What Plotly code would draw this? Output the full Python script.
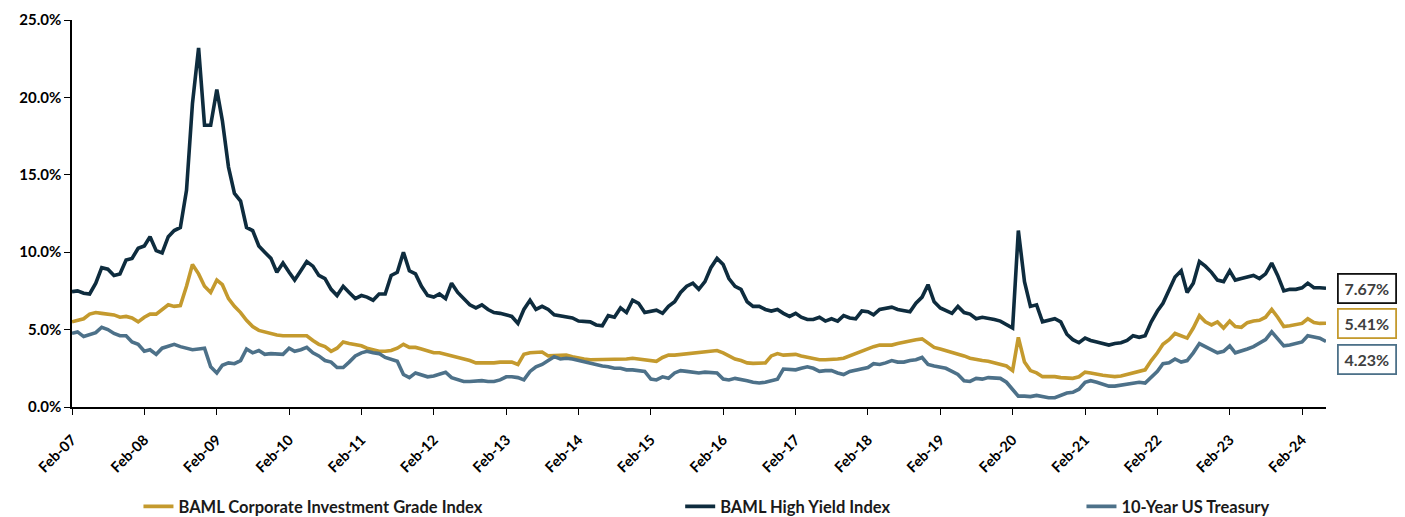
import pandas as pd
import plotly.graph_objects as go

# ---------------- data (monthly, Feb-2007 .. Jun-2024), in percent ----------------
start_month = "2007-02-01"

high_yield = [
    7.45, 7.5, 7.35, 7.3, 8.0, 9.0, 8.9, 8.5, 8.6, 9.5, 9.6, 10.25,
    10.4, 11.0, 10.1, 9.95, 11.0, 11.4, 11.6, 14.0, 19.6, 23.2, 18.2, 18.2,
    20.5, 18.5, 15.5, 13.8, 13.3, 11.6, 11.4, 10.4, 10.0, 9.6, 8.7, 9.3,
    8.7, 8.2, 8.8, 9.4, 9.1, 8.5, 8.3, 7.6, 7.2, 7.8, 7.4, 7.0,
    7.2, 7.1, 6.9, 7.3, 7.3, 8.5, 8.7, 10.0, 8.8, 8.6, 7.8, 7.2,
    7.1, 7.3, 7.0, 8.0, 7.4, 7.0, 6.6, 6.4, 6.6, 6.3, 6.1, 6.05,
    5.95, 5.85, 5.4, 6.3, 6.9, 6.3, 6.5, 6.3, 5.95, 5.9, 5.85, 5.75,
    5.55, 5.5, 5.5, 5.3, 5.25, 5.9, 5.8, 6.4, 6.1, 6.9, 6.7, 6.1,
    6.2, 6.25, 6.05, 6.5, 6.8, 7.4, 7.8, 8.0, 7.6, 8.1, 9.0, 9.6,
    9.2, 8.3, 7.8, 7.6, 6.8, 6.5, 6.5, 6.3, 6.2, 6.3, 6.05, 5.85,
    6.05, 5.8, 5.65, 5.65, 5.8, 5.55, 5.7, 5.55, 5.9, 5.75, 5.7, 6.2,
    6.15, 5.95, 6.3, 6.35, 6.45, 6.3, 6.25, 6.15, 6.7, 7.1, 7.9, 6.8,
    6.4, 6.25, 6.05, 6.5, 6.1, 6.0, 5.7, 5.8, 5.75, 5.65, 5.55, 5.3,
    5.1, 11.4, 8.1, 6.5, 6.6, 5.5, 5.6, 5.7, 5.5, 4.7, 4.35, 4.15,
    4.45, 4.3, 4.2, 4.1, 4.0, 4.1, 4.15, 4.3, 4.6, 4.5, 4.6, 5.5,
    6.2, 6.7, 7.6, 8.4, 8.8, 7.4, 8.0, 9.4, 9.1, 8.7, 8.2, 8.1,
    8.8, 8.2, 8.3, 8.4, 8.5, 8.3, 8.6, 9.3, 8.5, 7.5, 7.6, 7.6,
    7.7, 8.0, 7.7, 7.7, 7.67,
]

investment_grade = [
    5.5, 5.6, 5.7, 6.0, 6.1, 6.05, 6.0, 5.95, 5.8, 5.85, 5.75, 5.5,
    5.8, 6.0, 6.0, 6.3, 6.6, 6.5, 6.55, 7.8, 9.2, 8.6, 7.8, 7.4,
    8.2, 7.9, 7.0, 6.5, 6.1, 5.6, 5.2, 4.95, 4.85, 4.7, 4.65, 4.6,
    4.6, 4.55, 4.55, 4.6, 4.3, 4.05, 3.9, 3.6, 3.8, 4.2, 4.1, 4.05,
    3.95, 3.8, 3.7, 3.6, 3.6, 3.65, 3.8, 4.05, 3.85, 3.85, 3.75, 3.6,
    3.5, 3.5, 3.4, 3.35, 3.25, 3.1, 3.0, 2.85, 2.85, 2.82, 2.85, 2.9,
    2.9, 2.9, 2.75, 3.4, 3.5, 3.5, 3.55, 3.3, 3.3, 3.35, 3.35, 3.25,
    3.15, 3.1, 3.05, 3.05, 3.05, 3.05, 3.05, 3.05, 3.1, 3.15, 3.1, 3.05,
    3.0, 2.95, 3.2, 3.35, 3.35, 3.4, 3.45, 3.5, 3.5, 3.55, 3.6, 3.65,
    3.5, 3.3, 3.1, 3.0, 2.85, 2.82, 2.82, 2.85, 3.3, 3.45, 3.35, 3.4,
    3.4, 3.3, 3.2, 3.1, 3.05, 3.05, 3.05, 3.1, 3.15, 3.3, 3.45, 3.6,
    3.8, 3.9, 4.0, 4.0, 4.0, 4.1, 4.2, 4.25, 4.35, 4.4, 4.15, 3.85,
    3.75, 3.65, 3.55, 3.45, 3.3, 3.15, 3.05, 3.0, 2.95, 2.85, 2.75, 2.65,
    2.35, 4.5, 2.9, 2.35, 2.2, 1.96, 1.96, 1.96, 1.9, 1.85, 1.85, 1.95,
    2.25, 2.2, 2.1, 2.05, 2.0, 1.96, 2.0, 2.1, 2.25, 2.3, 2.4, 3.0,
    3.5, 4.05, 4.35, 4.75, 4.6, 4.45, 5.1, 5.9, 5.5, 5.3, 5.5, 5.1,
    5.55, 5.2, 5.15, 5.45, 5.55, 5.6, 5.8, 6.3, 5.8, 5.2, 5.25, 5.3,
    5.4, 5.7, 5.45, 5.4, 5.41,
]

treasury_10y = [
    4.76, 4.85, 4.55, 4.65, 4.8, 5.15, 5.0, 4.75, 4.6, 4.6, 4.2, 4.05,
    3.6, 3.7, 3.4, 3.8, 3.9, 4.05, 3.9, 3.8, 3.7, 3.75, 3.8, 2.6,
    2.2, 2.7, 2.85, 2.8, 3.0, 3.75, 3.5, 3.65, 3.4, 3.45, 3.4, 3.4,
    3.8, 3.6, 3.7, 3.85, 3.5, 3.3, 3.0, 2.9, 2.55, 2.55, 2.9, 3.3,
    3.5, 3.6, 3.5, 3.45, 3.2, 3.05, 2.95, 2.1, 1.9, 2.2, 2.05, 1.95,
    2.0, 2.1, 2.25, 1.9, 1.8, 1.65, 1.65, 1.7, 1.7, 1.65, 1.65, 1.75,
    1.95, 1.95, 1.9, 1.75, 2.3, 2.6, 2.75, 3.0, 3.25, 3.1, 3.15, 3.1,
    3.0, 2.9, 2.85, 2.75, 2.65, 2.6, 2.5, 2.5, 2.4, 2.4, 2.35, 2.3,
    1.8, 1.75, 1.95, 1.85, 2.2, 2.35, 2.3, 2.25, 2.2, 2.25, 2.25, 2.2,
    1.8, 1.75, 1.85, 1.8, 1.7, 1.6, 1.55, 1.6, 1.7, 1.8, 2.45, 2.45,
    2.4, 2.5, 2.6, 2.5, 2.3, 2.35, 2.35, 2.2, 2.1, 2.3, 2.4, 2.45,
    2.55, 2.8, 2.75, 2.85, 3.0, 2.9, 2.9, 3.0, 3.05, 3.2, 2.75, 2.65,
    2.6, 2.5, 2.3, 2.1, 1.7, 1.65, 1.85, 1.8, 1.9, 1.9, 1.85, 1.6,
    1.1, 0.7, 0.7, 0.67, 0.75, 0.65, 0.6, 0.6, 0.75, 0.9, 0.95, 1.15,
    1.6, 1.7, 1.6, 1.5, 1.35, 1.35, 1.4, 1.45, 1.55, 1.6, 1.55, 1.95,
    2.3, 2.8, 2.85, 3.1, 2.9, 3.0, 3.5, 4.1, 3.9, 3.65, 3.5, 3.6,
    3.95, 3.5, 3.6, 3.75, 3.9, 4.1, 4.35, 4.85, 4.4, 3.95, 4.0, 4.1,
    4.2, 4.6, 4.5, 4.45, 4.23,
]

series_names = [
    "BAML Corporate Investment Grade Index",
    "BAML High Yield Index",
    "10-Year US Treasury",
]
y_tick_values = [0, 5, 10, 15, 20, 25]
y_tick_labels = ["0.0%", "5.0%", "10.0%", "15.0%", "20.0%", "25.0%"]

# ---------------- styling ----------------
FONT = "Lato, 'Open Sans', sans-serif"
C_IG = "#c49a2e"
C_HY = "#0e2c3e"
C_UST = "#4d7189"

dates = pd.date_range(start_month, periods=len(high_yield), freq="MS")

fig = go.Figure()
series = [
    (investment_grade, series_names[0], C_IG, "legend"),
    (high_yield, series_names[1], C_HY, "legend2"),
    (treasury_10y, series_names[2], C_UST, "legend3"),
]
for vals, name, col, leg in series:
    fig.add_trace(go.Scatter(
        x=dates, y=vals, name=name, mode="lines",
        line=dict(color=col, width=3.6),
        legend=leg, hoverinfo="skip",
    ))

# end-value boxes
box_specs = [
    (high_yield[-1], "#111111", 0),
    (investment_grade[-1], C_IG, 0),
    (treasury_10y[-1], C_UST, -18),
]
for val, border, shift in box_specs:
    fig.add_annotation(
        x=1, xref="paper", xanchor="left", xshift=11,
        y=val, yref="y", yanchor="middle", yshift=shift,
        text=f"{val:.2f}%", showarrow=False,
        font=dict(family=FONT, size=16, color="#404040", weight="bold"),
        bordercolor=border, borderwidth=1.8, borderpad=3,
        bgcolor="white", width=50, height=21,
    )

legend_common = dict(
    orientation="h", yref="container", yanchor="middle", y=0.02,
    xanchor="left",
    font=dict(family=FONT, size=16.5, color="#1a1a1a", weight="bold"),
    bgcolor="rgba(0,0,0,0)", itemwidth=30, tracegroupgap=0,
)
fig.update_layout(
    width=1405, height=517,
    margin=dict(l=72, r=79, t=20, b=110, autoexpand=False),
    paper_bgcolor="white", plot_bgcolor="white",
    font=dict(family=FONT, color="#000000"),
    showlegend=True,
    legend=dict(x=0.053, **legend_common),
    legend2=dict(x=0.485, **legend_common),
    legend3=dict(x=0.805, **legend_common),
    xaxis=dict(
        type="date",
        range=[dates[0], dates[-1]],
        tick0=start_month, dtick="M12", tickformat="%b-%y",
        tickangle=-45, ticklabelstandoff=11,
        ticks="outside", ticklen=6, tickcolor="#000000", tickwidth=1,
        showline=True, linecolor="#000000", linewidth=1.5,
        showgrid=False, zeroline=False,
        tickfont=dict(family=FONT, size=14.5, color="#000000", weight="bold"),
    ),
    yaxis=dict(
        range=[0, 25], tickvals=y_tick_values, ticktext=y_tick_labels,
        ticks="outside", ticklen=6, tickcolor="#000000", tickwidth=1,
        showline=True, linecolor="#000000", linewidth=1.5,
        showgrid=False, zeroline=False,
        tickfont=dict(family=FONT, size=15, color="#000000", weight="bold"),
    ),
)

fig.write_html("out.html")
